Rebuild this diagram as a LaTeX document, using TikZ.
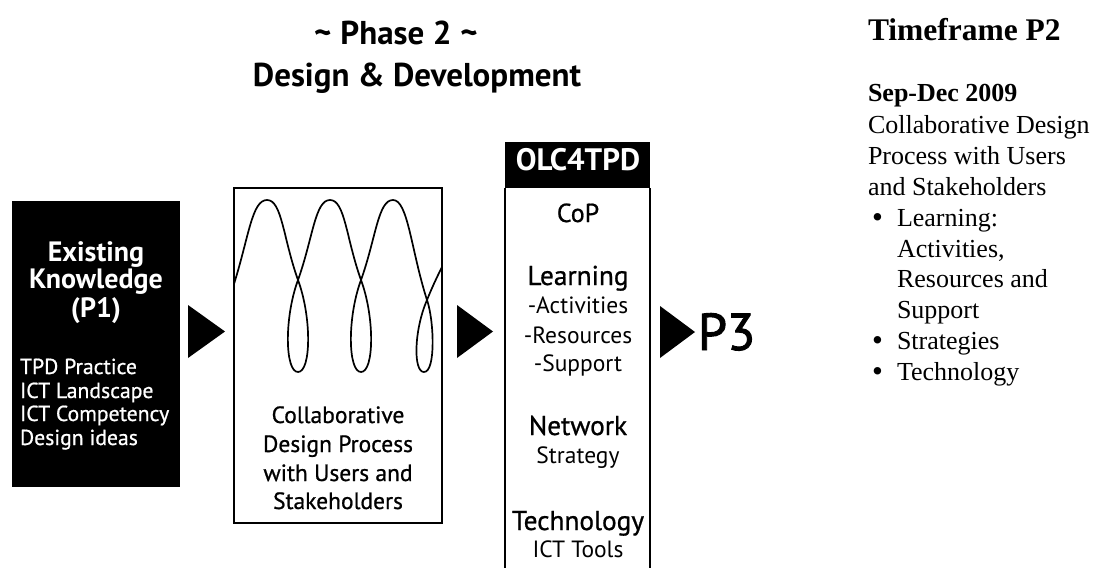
\documentclass[tikz,border=0pt]{standalone}
\usepackage{fontspec}
\setmainfont{Liberation Serif}
\newfontfamily\sansr{PT Sans}
\newfontfamily\sanssb[FakeBold=0.8]{PT Sans}
\newfontfamily\sansbig[FakeBold=1.8]{PT Sans}
\newcommand{\fsz}[1]{\fontsize{#1}{#1}\selectfont}
\begin{document}
\begin{tikzpicture}[x=1pt,y=-1pt,
  txt/.style={inner sep=0pt, outer sep=0pt, anchor=base},
  txtw/.style={txt, anchor=base west},
  blackbox/.style={fill=black, inner sep=0pt, outer sep=0pt, anchor=north west},
  framebox/.style={draw=black, line width=1.8pt, inner sep=0pt, outer sep=0pt, anchor=north west},
  tri/.style={fill=black},
  olcline/.style={line width=1.6pt},
  loopline/.style={line width=1.7pt, line join=round}
]
\useasboundingbox (0,0) rectangle (1099,567);

% heading
\node[txt] (h1) at (396,45) {\fsz{33}\sansr\bfseries \char`\~\hspace{9pt}Phase 2\hspace{9pt}\char`\~};
\node[txt] (h2) at (417,87) {\fsz{33}\sansr\bfseries Design \& Development};

% left black box
\node[blackbox, minimum width=168pt, minimum height=286pt] (know) at (12,201) {};
\node[txt, text=white] (k1) at (96,261) {\fsz{28}\sansr\bfseries Existing};
\node[txt, text=white] (k2) at (96,288) {\fsz{28}\sansr\bfseries Knowledge};
\node[txt, text=white] (k3) at (96,317) {\fsz{28}\sansr\bfseries (P1)};
\node[txtw, text=white] (k4) at (20,374) {\fsz{21.7}\sanssb TPD Practice};
\node[txtw, text=white] (k5) at (20,398) {\fsz{21.7}\sanssb ICT Landscape};
\node[txtw, text=white] (k6) at (20,421) {\fsz{21.7}\sanssb ICT Competency};
\node[txtw, text=white] (k7) at (20,445) {\fsz{21.7}\sanssb Design ideas};

% arrow 1
\fill[tri] (188,305) -- (225,331.5) -- (188,358) -- cycle;

% middle box
\node[framebox, minimum width=208pt, minimum height=335pt] (collab) at (234,188) {};
\begin{scope}
\clip (234,188) rectangle (442,523);
\draw[loopline] (234,284) .. controls (249,236) and (252,200) .. (267,200)
  \foreach \p in {267,330}{
    .. controls ({\p+15},200) and ({\p+16},238) .. ({\p+31},280)
    .. controls ({\p+45},318) and ({\p+44},372) .. ({\p+31},372)
    .. controls ({\p+18},372) and ({\p+17},318) .. ({\p+31},280)
    .. controls ({\p+46},238) and ({\p+48},200) .. ({\p+63},200)
  }
  .. controls (408,200) and (411,250) .. (427,300)
  .. controls (434,320) and (436,372) .. (424,372)
  .. controls (413,372) and (414,330) .. (427,300)
  .. controls (433,285) and (438,275) .. (443,265);
\end{scope}
\node[txt] (c1) at (338,423) {\fsz{23.5}\sanssb Collaborative};
\node[txt] (c2) at (338,452) {\fsz{23.5}\sanssb Design Process};
\node[txt] (c3) at (338,481) {\fsz{23.5}\sanssb with Users and};
\node[txt] (c4) at (338,509) {\fsz{23.5}\sanssb Stakeholders};

% arrow 2
\fill[tri] (457,305) -- (493,331.5) -- (457,358) -- cycle;

% OLC4TPD column
\node[blackbox, minimum width=145pt, minimum height=46pt] (olchead) at (505,142) {};
\node[txt, text=white] (olc) at (578,170) {\fsz{31}\sansr\bfseries OLC4TPD};
\draw[olcline] (olchead.south west) -- (505,570);
\draw[olcline] (olchead.south east) -- (650,570);
\node[txt] (o1) at (578,222) {\fsz{26}\sanssb CoP};
\node[txt] (o2) at (578,285) {\fsz{27.3}\sanssb Learning};
\node[txt] (o3) at (578,313) {\fsz{23.5}\sansr -Activities};
\node[txt] (o4) at (578,343) {\fsz{23.5}\sansr -Resources};
\node[txt] (o5) at (578,371) {\fsz{23.5}\sansr -Support};
\node[txt] (o6) at (578,435) {\fsz{27.3}\sanssb Network};
\node[txt] (o7) at (578,463) {\fsz{23.5}\sansr Strategy};
\node[txt] (o8) at (578,530) {\fsz{27.3}\sanssb Technology};
\node[txt] (o9) at (578,557) {\fsz{23.5}\sansr ICT Tools};

% arrow 3 and P3
\fill[tri] (660,306) -- (695,332) -- (660,358) -- cycle;
\node[txtw] (p3) at (698,350) {\fsz{52}\sansbig P3};

% right column
\node[txtw] (tf) at (868,41) {\fsz{31.5}\bfseries Timeframe P2};
\node[txtw] (r1) at (868,102) {\fsz{26}\bfseries Sep-Dec 2009};
\node[txtw] (r2) at (868,133) {\fsz{26}Collaborative Design};
\node[txtw] (r3) at (868,164) {\fsz{26}Process with Users};
\node[txtw] (r4) at (868,195) {\fsz{26}and Stakeholders};
\node[txtw] (b1) at (872,227) {\fsz{31}\textbullet};
\node[txtw] (r5) at (897,226) {\fsz{26}Learning:};
\node[txtw] (r6) at (897,257) {\fsz{26}Activities,};
\node[txtw] (r7) at (897,287) {\fsz{26}Resources and};
\node[txtw] (r8) at (897,318) {\fsz{26}Support};
\node[txtw] (b2) at (872,350) {\fsz{31}\textbullet};
\node[txtw] (r9) at (897,349) {\fsz{26}Strategies};
\node[txtw] (b3) at (872,381) {\fsz{31}\textbullet};
\node[txtw] (r10) at (897,380) {\fsz{26}Technology};
\end{tikzpicture}
\end{document}
